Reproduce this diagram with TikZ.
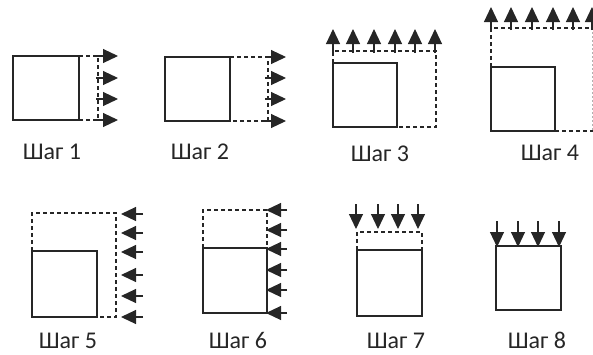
\documentclass[tikz,border=0pt]{standalone}
\usepackage{fontspec}
\setmainfont{Carlito}
\usetikzlibrary{arrows.meta}
\begin{document}
\begin{tikzpicture}[x=1pt,y=-1pt,
  sq/.style={draw=black!85,line width=1.5pt},
  dsh/.style={draw=black!85,line width=1.4pt,dash pattern=on 4pt off 3pt},
  arr/.style={draw=black!85,line width=1.1pt,-{Triangle[length=15pt,width=14pt]},black!85},
  lbl/.style={font=\fontsize{24}{28}\selectfont,text=black!85,inner sep=0pt,anchor=base}]
\useasboundingbox (0,0) rectangle (593,354);
% Step 1
\draw[sq] (13,56) rectangle (79,120);
\draw[dsh] (79,56) -- (98,56) -- (98,120) -- (79,120);
\foreach \y in {56,78,99,120} \draw[arr] (96,\y) -- (118,\y);
\node[lbl] (l1) at (52,159) {Шаг 1};
% Step 2
\draw[sq] (165,57) rectangle (230,121);
\draw[dsh] (230,57) -- (268,57) -- (268,121) -- (230,121);
\foreach \y in {57,78,99,121} \draw[arr] (265,\y) -- (286,\y);
\node[lbl] (l2) at (200,159) {Шаг 2};
% Step 3
\draw[sq] (333,63) rectangle (397,127);
\draw[dsh] (333,63) -- (333,51) -- (436,51) -- (436,127) -- (397,127);
\foreach \x in {333,353,374,395,415,435} \draw[arr] (\x,53) -- (\x,29);
\node[lbl] (l3) at (380,161) {Шаг 3};
% Step 4
\draw[sq] (491,67) rectangle (555,131);
\draw[dsh] (491,67) -- (491,28) -- (596,28);
\draw[dsh] (555,131) -- (596,131);
\draw[draw=black!30,line width=0.8pt,dash pattern=on 2pt off 2pt] (592,28) -- (592,131);
\foreach \x in {491,511,532,553,573,592} \draw[arr] (\x,30) -- (\x,7);
\node[lbl] (l4) at (550,160) {Шаг 4};
% Step 5
\draw[sq] (32,251) rectangle (97,317);
\draw[dsh] (32,251) -- (32,213) -- (116,213) -- (116,317) -- (97,317);
\foreach \y in {214,233,252,275,296,317} \draw[arr] (143,\y) -- (121,\y);
\node[lbl] (l5) at (68,348) {Шаг 5};
% Step 6
\draw[sq] (203,248) rectangle (267,313);
\draw[dsh] (203,248) -- (203,210) -- (267,210) -- (267,248);
\foreach \y in {210,230,249,270,290,313} \draw[arr] (287,\y) -- (266,\y);
\node[lbl] (l6) at (238,348) {Шаг 6};
% Step 7
\draw[sq] (357,250) rectangle (422,316);
\draw[dsh] (357,250) -- (357,232) -- (422,232) -- (422,250);
\foreach \x in {356,378,398,418} \draw[arr] (\x,204) -- (\x,229);
\node[lbl] (l7) at (396,348) {Шаг 7};
% Step 8
\draw[sq] (496,246) rectangle (561,310);
\foreach \x in {497,518,538,559} \draw[arr] (\x,221) -- (\x,247);
\node[lbl] (l8) at (537,348) {Шаг 8};
\end{tikzpicture}
\end{document}
